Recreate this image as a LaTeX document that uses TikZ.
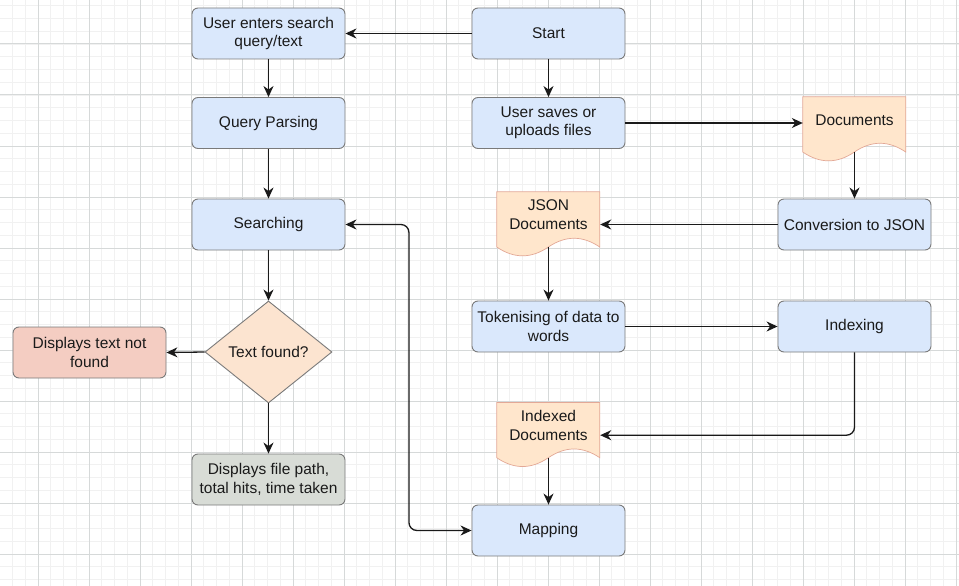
\documentclass[tikz,border=0pt]{standalone}
\usepackage{fontspec}
\setmainfont{Liberation Sans}
\usetikzlibrary{shapes.geometric,arrows.meta,calc}
\definecolor{bluef}{HTML}{DAE8FC}
\definecolor{boxline}{HTML}{7A7A7A}
\definecolor{docf}{HTML}{FFE6CC}
\definecolor{docline}{HTML}{E3A896}
\definecolor{diaf}{HTML}{FCE4D0}
\definecolor{redf}{HTML}{F4CDC2}
\definecolor{grayf}{HTML}{D8DCD6}
\definecolor{txt}{HTML}{1A1A1A}
\definecolor{minorc}{HTML}{F1F1F1}
\definecolor{majorc}{HTML}{D6D9D9}
\newcommand\docoutline[1]{%
  \begin{scope}[shift={(#1.north west)}]
    \draw[docstyle] (0,0) -- (103,0) -- (103,55.25)
      .. controls (85.83,43.55) and (68.67,43.55) .. (51.5,55.25)
      .. controls (34.33,66.95) and (17.17,66.95) .. (0,55.25) -- cycle;
  \end{scope}}
\begin{document}
\begin{tikzpicture}[x=1pt,y=-1pt,
  every node/.style={font=\fontsize{15.5}{18.3}\selectfont, text=txt, align=center},
  box/.style={draw=boxline, line width=0.9pt, rounded corners=6pt, minimum width=153pt, minimum height=51pt, inner sep=0pt, fill=bluef},
  docbox/.style={draw=none, minimum width=103pt, minimum height=65pt, inner sep=0pt},
  docstyle/.style={draw=docline, fill=docf, line width=0.7pt},
  tipx/.tip={Stealth[length=11pt,width=10pt,inset=3.5pt]},
  arr/.style={draw=txt, line width=1.3pt, -tipx},
  arrb/.style={draw=txt, line width=1.3pt, tipx-tipx},
  minorg/.style={draw=minorc, line width=0.8pt},
  majorg/.style={draw=majorc, line width=1pt}]
\useasboundingbox (0,0) rectangle (959,586);
\begin{scope}
  \clip (0,0) rectangle (959,586);
  \fill[white] (0,0) rectangle (959,586);
  \foreach \i in {0,...,78} {\draw[minorg] ({-13+12.75*\i},0) -- ({-13+12.75*\i},586);}
  \foreach \i in {0,...,47} {\draw[minorg] (0,{-7+12.75*\i}) -- (959,{-7+12.75*\i});}
  \foreach \i in {0,...,19} {\draw[majorg] ({-13+51*\i},0) -- ({-13+51*\i},586);}
  \foreach \i in {0,...,12} {\draw[majorg] (0,{-7+51*\i}) -- (959,{-7+51*\i});}
\end{scope}

% left column
\node[box] (enters) at (268.5,33.5) {User enters search\\query/text};
\node[box] (parse) at (268.5,123) {Query Parsing};
\node[box] (search) at (268.5,224.5) {Searching};
\node[diamond, draw=boxline, line width=0.9pt, fill=diaf, minimum width=127pt, minimum height=102pt, inner sep=0pt] (found) at (268.5,352) {Text found?};
\node[box, fill=redf] (notfound) at (89.5,352.5) {Displays text not\\found};
\node[box, fill=grayf] (fpath) at (268.5,479.5) {Displays file path,\\total hits, time taken};

% right columns
\node[box] (start) at (548.5,33.5) {Start};
\node[box] (saves) at (548.5,123) {User saves or\\uploads files};
\node[docbox] (docs) at (854.5,129.5) {};
\docoutline{docs}
\node (docsT) at (854.5,119.75) {Documents};
\node[box] (conv) at (854.5,224.5) {Conversion to JSON};
\node[docbox] (json) at (548.5,224.5) {};
\docoutline{json}
\node (jsonT) at (548.5,214.75) {JSON\\Documents};
\node[box] (token) at (548.5,326.5) {Tokenising of data to\\words};
\node[box] (indexing) at (854.5,326.5) {Indexing};
\node[docbox] (idx) at (548.5,435.2) {};
\docoutline{idx}
\node (idxT) at (548.5,425.45) {Indexed\\Documents};
\node[box] (mapping) at (548.5,530.5) {Mapping};

\coordinate (docsB) at ($(docs.south)+(0,-9.75)$);
\coordinate (jsonB) at ($(json.south)+(0,-9.75)$);
\coordinate (idxB) at ($(idx.south)+(0,-9.75)$);

% connectors
\draw[arr] (start.west) -- (enters.east);
\draw[arr] (start.south) -- (saves.north);
\draw[arr] (enters.south) -- (parse.north);
\draw[arr] (parse.south) -- (search.north);
\draw[arr] (saves.east) -- (saves.east -| docs.west);
\draw[arr] (docsB) -- (conv.north);
\draw[arr] (conv.west) -- (conv.west -| json.east);
\draw[arr] (jsonB) -- (token.north);
\draw[arr] (token.east) -- (indexing.west);
\draw[arr, rounded corners=8pt] (indexing.south) |- (idx.east);
\draw[arr] (idxB) -- (mapping.north);
\draw[arrb, rounded corners=8pt] (search.east) -- ([xshift=63.5pt]search.east) |- (mapping.west);
\draw[arr] (search.south) -- (found.north);
\draw[arr] (found.west) -- (notfound.east);
\draw[arr] (found.south) -- (fpath.north);
\end{tikzpicture}
\end{document}
